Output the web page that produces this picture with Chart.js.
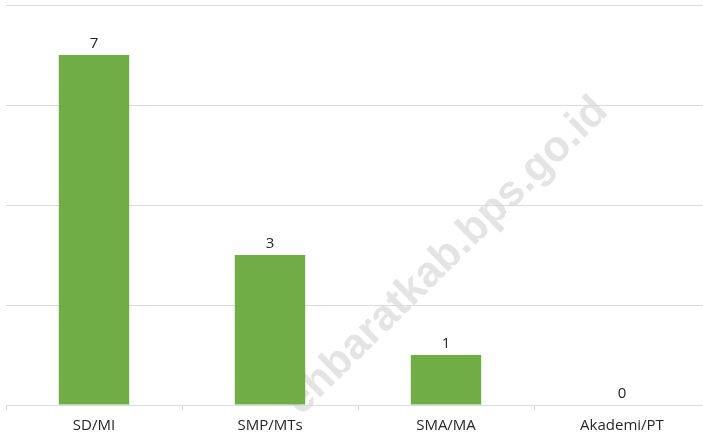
<!DOCTYPE html>
<html>
<head>
<meta charset="utf-8">
<script src="https://cdn.jsdelivr.net/npm/chart.js@4"></script>
<style>
  html, body { margin: 0; padding: 0; background: #fff; overflow: hidden; }
  #wrap { width: 703px; height: 436px; overflow: hidden; }
</style>
</head>
<body>
<div id="wrap"><canvas id="chart" width="710" height="436"></canvas></div>
<script>
// data
const categories = ["SD/MI", "SMP/MTs", "SMA/MA", "Akademi/PT"];
const values = [7, 3, 1, 0];
const yTicks = [0, 2, 4, 6, 8];

const FONT = "'Open Sans', 'Liberation Sans', sans-serif";

// angka di atas batang
const valueLabels = {
  id: "valueLabels",
  afterDatasetsDraw(chart) {
    const ctx = chart.ctx;
    const meta = chart.getDatasetMeta(0);
    ctx.save();
    ctx.fillStyle = "#262626";
    ctx.font = "15px " + FONT;
    ctx.textAlign = "center";
    ctx.textBaseline = "alphabetic";
    meta.data.forEach((bar, i) => {
      ctx.fillText(String(values[i]), bar.x, bar.y - 7);
    });
    ctx.restore();
  }
};

// watermark (di belakang semua, awal teks terpotong seperti aslinya)
const watermark = {
  id: "watermark",
  beforeDraw(chart) {
    const ctx = chart.ctx;
    const head = "acehbaratkab";
    const cut = "ac";
    const text = "acehbaratkab.bps.go.id";
    ctx.save();
    ctx.font = "bold 43px 'Liberation Sans', Arial, sans-serif";
    const w1 = ctx.measureText(head).width;
    const wd = ctx.measureText(".").width;
    const wc = ctx.measureText(cut).width;
    const x0 = -(w1 + wd / 2);
    ctx.translate(467, 249);
    ctx.rotate(-44.5 * Math.PI / 180);
    ctx.beginPath();
    ctx.rect(x0 + wc, -100, 1000, 200);
    ctx.clip();
    ctx.fillStyle = "#e4e4e4";
    ctx.textAlign = "left";
    ctx.textBaseline = "alphabetic";
    ctx.fillText(text, x0, 3);
    ctx.restore();
  }
};

new Chart(document.getElementById("chart"), {
  type: "bar",
  data: {
    labels: categories,
    datasets: [{
      data: values,
      backgroundColor: "#70ad47",
      borderWidth: 0,
      barPercentage: 0.4,
      categoryPercentage: 1.0
    }]
  },
  options: {
    responsive: false,
    animation: false,
    layout: { padding: { left: 6, top: 5, right: 0, bottom: 0 } },
    plugins: { legend: { display: false }, tooltip: { enabled: false } },
    scales: {
      x: {
        grid: {
          offset: true,
          drawOnChartArea: false,
          drawTicks: true,
          tickLength: 5,
          color: "#d9d9d9"
        },
        border: { display: true, color: "#d9d9d9" },
        ticks: {
          color: "#262626",
          font: { family: FONT, size: 15 },
          padding: 7,
          maxRotation: 0
        },
        afterFit(scale) { scale.height = 31; }
      },
      y: {
        min: 0,
        max: 8,
        afterBuildTicks(scale) { scale.ticks = yTicks.map(v => ({ value: v })); },
        ticks: { display: false },
        grid: { color: "#d9d9d9", drawTicks: false },
        border: { display: false },
        afterFit(scale) { scale.width = 0; }
      }
    }
  },
  plugins: [watermark, valueLabels]
});
</script>
</body>
</html>
